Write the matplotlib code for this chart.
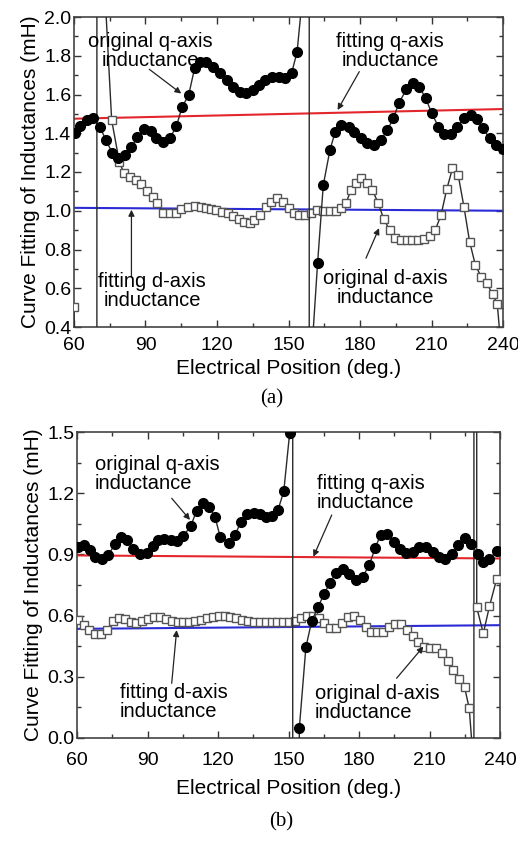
import matplotlib
matplotlib.use("Agg")
import matplotlib.pyplot as plt
from matplotlib.ticker import MultipleLocator

plt.rcParams['font.family'] = ['Liberation Sans', 'DejaVu Sans']

# ---------------- panel (a) data ----------------
a_q_x = [60.4, 62.5, 65.3, 68.1, 70.9, 73.4, 76.0, 78.5, 81.3, 84.1, 86.6, 89.3, 92.1, 94.6,
         97.4, 100.2, 103.0, 105.3, 108.1, 110.6, 112.9, 115.5, 118.3, 121.4, 124.3, 126.7,
         129.5, 132.3, 135.0, 137.8, 140.3, 143.1, 145.9, 148.7, 151.3, 153.6, 156.2,
         158.3, 159.1, 159.4,
         162.2, 164.6, 167.4, 169.6, 172.0, 175.2, 177.6, 180.4, 183.1, 185.9, 188.7, 191.5,
         194.0, 196.4, 199.5, 202.3, 204.8, 207.6, 210.1, 212.9, 215.2, 218.0, 220.8, 223.6,
         226.4, 228.9, 231.5, 234.4, 237.1, 239.9]
a_q_y = [1.40, 1.437, 1.47, 1.477, 1.431, 1.365, 1.30, 1.27, 1.288, 1.33, 1.38, 1.42, 1.41, 1.374,
         1.356, 1.374, 1.437, 1.534, 1.597, 1.735, 1.77, 1.77, 1.743, 1.71, 1.675, 1.64,
         1.614, 1.606, 1.623, 1.649, 1.675, 1.692, 1.692, 1.684, 1.71, 1.82, 2.15,
         400.0, -400.0, 0.20,
         0.729, 1.133, 1.314, 1.408, 1.443, 1.434, 1.408, 1.374, 1.348, 1.339, 1.365, 1.417,
         1.477, 1.558, 1.627, 1.661, 1.64, 1.58, 1.503, 1.434, 1.396, 1.396, 1.434, 1.477,
         1.494, 1.472, 1.426, 1.374, 1.339, 1.32]

a_d_x = [60.0, 62.5, 65.0, 68.2, 71.0, 73.3, 75.8, 79.0, 81.0, 83.4, 86.0, 88.3, 90.7, 93.0,
         95.0, 97.4, 100.2, 102.7, 105.1, 107.8, 110.6, 113.4, 115.5, 117.6, 119.7, 122.2,
         124.6, 126.7, 129.2, 131.5, 133.9, 135.7, 138.1, 140.6, 142.7, 145.1, 147.6, 150.1,
         152.2, 154.6, 157.1, 159.5, 161.8, 164.6, 167.4, 169.9, 172.0, 174.1, 176.2, 178.3,
         180.4, 182.8, 185.2, 187.6, 190.0, 192.4, 194.8, 197.2, 199.6, 202.0, 204.4, 206.8,
         209.2, 211.6, 214.0, 216.4, 218.8, 221.2, 223.6, 226.0, 228.4, 230.8, 233.2, 235.6,
         237.6, 239.6]
a_d_y = [0.505, -40.0, -150.0, -400.0, 400.0, 2.05, 1.468, 1.253, 1.193, 1.176, 1.159, 1.138, 1.104, 1.073,
         1.038, 0.99, 0.987, 0.99, 1.007, 1.021, 1.026, 1.021, 1.016, 1.009, 1.004, 0.995,
         0.987, 0.973, 0.956, 0.944, 0.938, 0.952, 0.978, 1.021, 1.047, 1.064, 1.047, 1.013,
         0.99, 0.978, 0.978, 0.987, 1.004, 1.0, 0.999, 0.999, 1.013, 1.038, 1.107, 1.142,
         1.167, 1.145, 1.107, 1.04, 0.956, 0.901, 0.858, 0.849, 0.849, 0.849, 0.849, 0.853,
         0.87, 0.901, 0.978, 1.111, 1.219, 1.185, 1.021, 0.84, 0.72, 0.66, 0.625, 0.57,
         0.519, 0.23]

a_fit_x = [60, 240]
a_fit_q = [1.475, 1.525]
a_fit_d = [1.015, 1.000]

# ---------------- panel (b) data ----------------
b_q_x = [60.4, 63.0, 65.5, 67.7, 70.5, 73.3, 76.2, 78.6, 81.4, 84.0, 86.8, 89.7, 92.2, 94.6,
         97.2, 100.0, 102.4, 105.2, 108.4, 110.9, 113.5, 116.3, 118.7, 120.9, 124.7, 127.2,
         129.8, 132.5, 135.2, 137.8, 140.4, 143.0, 145.6, 148.0, 150.5,
         151.4, 152.2,
         154.6, 157.4, 159.9, 162.7, 165.1, 167.7, 170.2, 173.1, 175.9, 178.7, 181.6, 184.4,
         186.8, 189.2, 191.8, 194.9, 197.4, 200.0, 202.8, 205.7, 208.5, 211.4, 214.2, 216.6,
         219.5, 222.3, 224.9, 227.7, 230.5, 232.9, 235.5, 238.6]
b_q_y = [0.935, 0.946, 0.922, 0.889, 0.876, 0.897, 0.951, 0.984, 0.971, 0.925, 0.902, 0.908, 0.941, 0.971,
         0.974, 0.971, 0.967, 0.99, 1.039, 1.114, 1.150, 1.130, 1.085, 0.987, 0.958, 0.995,
         1.06, 1.10, 1.105, 1.10, 1.085, 1.09, 1.12, 1.21, 1.496,
         400.0, -400.0,
         0.047, 0.445, 0.575, 0.644, 0.706, 0.762, 0.81, 0.826, 0.804, 0.775, 0.791, 0.848,
         0.93, 0.995, 0.998, 0.962, 0.925, 0.905, 0.913, 0.935, 0.938, 0.913, 0.889, 0.876,
         0.902, 0.946, 0.979, 0.951, 0.902, 0.864, 0.876, 0.918]

b_d_x = [60.3, 62.8, 65.3, 67.8, 70.3, 72.8, 75.3, 77.8, 80.3, 82.8, 85.3, 87.8, 90.3, 92.8,
         95.3, 97.8, 100.3, 102.8, 105.3, 107.8, 110.3, 112.8, 115.3, 117.8, 120.3, 122.8,
         125.3, 127.8, 130.3, 132.8, 135.3, 137.8, 140.3, 142.8, 145.3, 147.8, 150.3, 152.8,
         155.3, 157.8, 160.3, 162.8, 165.3, 167.8, 170.3, 172.8, 175.3, 177.8, 180.3, 182.8,
         185.3, 187.8, 190.3, 192.8, 195.3, 197.8, 200.3, 202.8, 205.3, 207.8, 210.3, 212.8,
         215.3, 217.7, 220.1, 222.5, 224.9, 226.9, 228.2, 228.6, 229.2,
         230.1, 232.9, 235.5, 238.6]
b_d_y = [0.578, 0.556, 0.53, 0.51, 0.508, 0.53, 0.572, 0.59, 0.585, 0.57, 0.565, 0.575, 0.585, 0.593,
         0.595, 0.585, 0.575, 0.57, 0.57, 0.57, 0.575, 0.58, 0.587, 0.595, 0.598, 0.598,
         0.595, 0.59, 0.58, 0.575, 0.57, 0.567, 0.567, 0.567, 0.567, 0.567, 0.567, 0.575,
         0.587, 0.598, 0.598, 0.587, 0.562, 0.538, 0.538, 0.562, 0.595, 0.598, 0.578, 0.546,
         0.521, 0.521, 0.521, 0.546, 0.559, 0.559, 0.53, 0.50, 0.47, 0.448, 0.44, 0.44,
         0.415, 0.379, 0.333, 0.29, 0.25, 0.146, -0.05, -300.0, 300.0,
         0.64, 0.513, 0.645, 0.78]

b_fit_x = [60, 240]
b_fit_q = [0.895, 0.880]
b_fit_d = [0.535, 0.553]

x_ticks = [60, 90, 120, 150, 180, 210, 240]

# ---------------- drawing ----------------
W, H = 518, 841
fig = plt.figure(figsize=(W / 100, H / 100), dpi=100)

LINE_C = '#2a2a2a'
SQ_C = '#555555'
RED = '#e3262b'
BLUE = '#2b2bd6'
TICK_FS = 14
ANN_FS = 14.5
LAB_FS = 15


def style_axis(ax, ylim, ymajor, yminor, ylabels, xpad, xlabelpad):
    ax.set_xlim(60, 240)
    ax.set_ylim(*ylim)
    ax.set_xticks(x_ticks)
    ax.xaxis.set_minor_locator(MultipleLocator(15))
    ax.yaxis.set_major_locator(MultipleLocator(ymajor))
    ax.yaxis.set_minor_locator(MultipleLocator(yminor))
    ax.tick_params(which='both', direction='in', top=True, right=True, width=1.0,
                   color='#333333', labelsize=TICK_FS)
    ax.tick_params(axis='x', which='major', pad=xpad)
    ax.tick_params(axis='y', which='major', pad=2)
    ax.tick_params(which='major', length=5)
    ax.tick_params(which='minor', length=3)
    for s in ax.spines.values():
        s.set_color('#444444')
        s.set_linewidth(1.2)
    ax.yaxis.set_major_formatter(matplotlib.ticker.FormatStrFormatter(ylabels))
    ax.set_xlabel('Electrical Position (deg.)', fontsize=LAB_FS, labelpad=xlabelpad)
    ax.set_ylabel('Curve Fitting of Inductances (mH)', fontsize=LAB_FS, labelpad=3)


def draw_series(ax, qx, qy, dx, dy, fx, fq, fd):
    ax.plot(fx, fq, color=RED, lw=1.5, zorder=2)
    ax.plot(fx, fd, color=BLUE, lw=1.5, zorder=2)
    ax.plot(dx, dy, color=LINE_C, lw=1.0, marker='s', ms=5.8, mfc='white',
            mec=SQ_C, mew=1.0, zorder=3)
    ax.plot(qx, qy, color=LINE_C, lw=1.0, marker='o', ms=7.0, mfc='black',
            mec='black', zorder=4)


def arrow(ax, tail, head):
    ax.annotate('', xy=head, xytext=tail,
                arrowprops=dict(arrowstyle='-|>', color='#222222', lw=0.9,
                                mutation_scale=9, shrinkA=0, shrinkB=0), zorder=6)


# panel (a)
ax1 = fig.add_axes([74 / W, 1 - 327 / H, 429 / W, 310 / H])
draw_series(ax1, a_q_x, a_q_y, a_d_x, a_d_y, a_fit_x, a_fit_q, a_fit_d)
style_axis(ax1, (0.4, 2.0), 0.2, 0.1, '%.1f', 7, 4)
ax1.text(92.2, 1.825, 'original q-axis\ninductance', fontsize=ANN_FS, ha='center',
         va='center', linespacing=1.0, zorder=7)
arrow(ax1, (91.6, 1.73), (105.0, 1.605))
ax1.text(192.6, 1.822, 'fitting q-axis\ninductance', fontsize=ANN_FS, ha='center',
         va='center', linespacing=1.0, zorder=7)
arrow(ax1, (179.7, 1.718), (170.6, 1.52))
ax1.text(92.8, 0.587, 'fitting d-axis\ninductance', fontsize=ANN_FS, ha='center',
         va='center', linespacing=1.0, zorder=7)
arrow(ax1, (84.1, 0.66), (84.1, 1.005))
ax1.text(190.8, 0.600, 'original d-axis\ninductance', fontsize=ANN_FS, ha='center',
         va='center', linespacing=1.0, zorder=7)
arrow(ax1, (182.5, 0.755), (188.0, 0.91))

# panel (b)
ax2 = fig.add_axes([77 / W, 1 - 738 / H, 423 / W, 306 / H])
draw_series(ax2, b_q_x, b_q_y, b_d_x, b_d_y, b_fit_x, b_fit_q, b_fit_d)
style_axis(ax2, (0.0, 1.5), 0.3, 0.15, '%.1f', 10, 7)
ax2.text(67.7, 1.294, 'original q-axis\ninductance', fontsize=ANN_FS, ha='left',
         va='center', linespacing=1.0, zorder=7)
arrow(ax2, (100.3, 1.175), (108.1, 1.069))
ax2.text(162.0, 1.199, 'fitting q-axis\ninductance', fontsize=ANN_FS, ha='left',
         va='center', linespacing=1.0, zorder=7)
arrow(ax2, (168.4, 1.093), (160.6, 0.889))
ax2.text(78.3, 0.178, 'fitting d-axis\ninductance', fontsize=ANN_FS, ha='left',
         va='center', linespacing=1.0, zorder=7)
arrow(ax2, (100.3, 0.268), (102.4, 0.529))
ax2.text(161.3, 0.170, 'original d-axis\ninductance', fontsize=ANN_FS, ha='left',
         va='center', linespacing=1.0, zorder=7)
arrow(ax2, (196.0, 0.293), (207.4, 0.448))

fig.text(272 / W, 1 - 399 / H, '(a)', fontsize=15, family=['Liberation Serif'],
         ha='center', va='center')
fig.text(281 / W, 1 - 822 / H, '(b)', fontsize=15, family=['Liberation Serif'],
         ha='center', va='center')

fig.savefig('out.png', dpi=100)
